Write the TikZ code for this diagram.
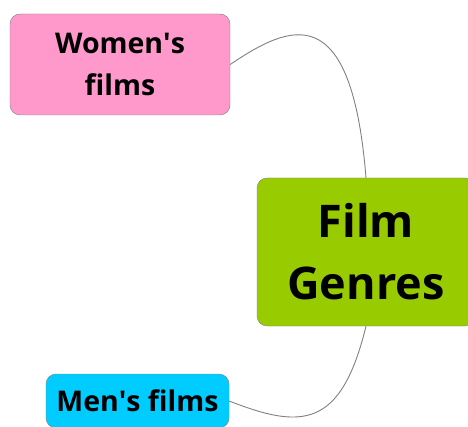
\documentclass[tikz,border=0pt]{standalone}
\usepackage{fontspec}
\setmainfont{Open Sans}
\usetikzlibrary{positioning}
\definecolor{womenpink}{RGB}{255,153,204}
\definecolor{genregreen}{RGB}{153,204,0}
\definecolor{menblue}{RGB}{0,204,255}
\definecolor{edgegray}{RGB}{128,128,128}

\begin{document}
\begin{tikzpicture}[x=1pt, y=-1pt,
    topic/.style={draw=edgegray, rounded corners=10pt, align=center, inner sep=0pt},
    branch/.style={draw=edgegray, line width=0.9pt}]
    \useasboundingbox (0,0) rectangle (468,427);

    \node[topic, fill=genregreen, minimum width=218pt, minimum height=148pt,
          font=\bfseries\fontsize{45}{62}\selectfont] (genres) at (366,252) {Film\\Genres};
    \node[topic, fill=womenpink, minimum width=220pt, minimum height=101pt,
          font=\bfseries\fontsize{28.5}{42}\selectfont] (women) at (120,64.5) {Women\textquotesingle s\\films};
    \node[topic, fill=menblue, minimum width=183pt, minimum height=54pt,
          font=\bfseries\fontsize{28.5}{42}\selectfont] (men) at (137.5,401) {Men\textquotesingle s films};

    \draw[branch] (women.east) .. controls (290.6,23.7) and (351.4,-2.7) .. (genres.north);
    \draw[branch] (genres.south) .. controls (341,428.4) and (302,429.6) .. (men.east);
\end{tikzpicture}
\end{document}
